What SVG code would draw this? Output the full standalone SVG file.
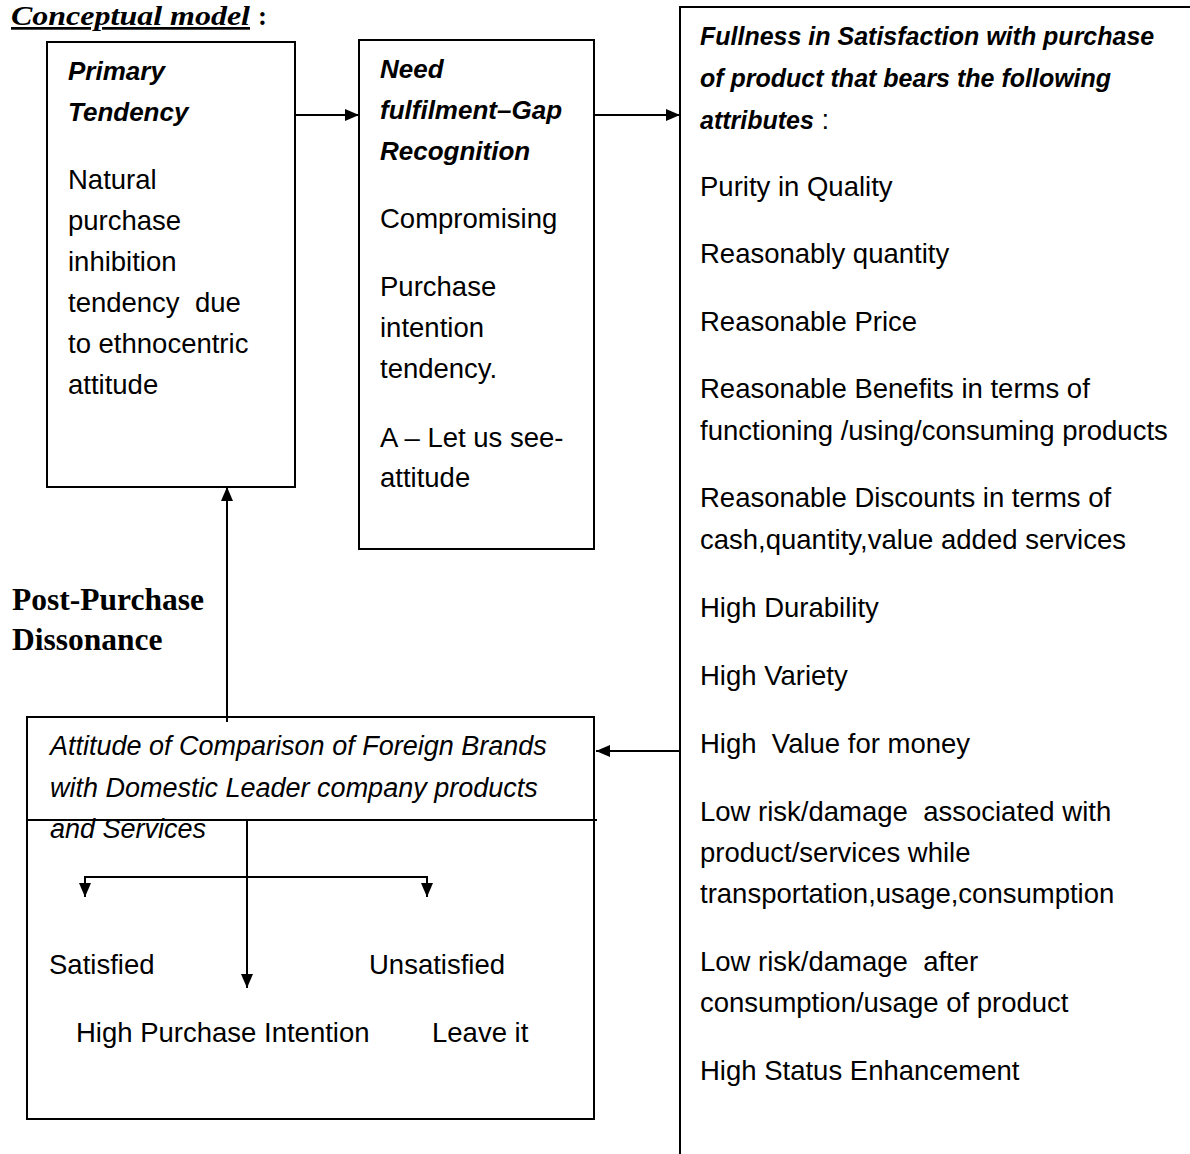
<svg xmlns="http://www.w3.org/2000/svg" width="1190" height="1154" viewBox="0 0 1190 1154">
<defs>
<marker id="ah" viewBox="0 0 14 12" refX="14" refY="6" markerWidth="14" markerHeight="12" markerUnits="userSpaceOnUse" orient="auto">
<path d="M0,0 L14,6 L0,12 Z" fill="#000"/>
</marker>
<style>
.box{fill:#fff;stroke:#000;stroke-width:2}
.ln{fill:none;stroke:#000;stroke-width:2}
.t{font-family:"Liberation Sans",Arial,sans-serif;font-size:27.5px;fill:#000}
.h{font-family:"Liberation Sans",Arial,sans-serif;font-size:26px;font-weight:bold;font-style:italic;fill:#000}
.hr{font-size:25px}
.i{font-family:"Liberation Sans",Arial,sans-serif;font-size:27px;font-style:italic;fill:#000}
.s{font-family:"Liberation Serif","Times New Roman",serif;font-weight:bold;fill:#000}
</style>
</defs>
<rect width="1190" height="1154" fill="#fff"/>
<g id="title">
<text class="s" x="11" y="25" font-size="27" font-style="italic" text-decoration="underline" textLength="239" lengthAdjust="spacingAndGlyphs">Conceptual model</text>
<text class="s" x="258" y="25" font-size="27">:</text>
</g>
<g id="label-dissonance">
<text class="s" x="12" y="610" font-size="31.5">Post-Purchase</text>
<text class="s" x="12" y="650" font-size="31.5">Dissonance</text>
</g>
<g id="node-primary">
<rect class="box" x="47" y="42" width="248" height="445"/>
<text class="h" x="68" y="80">Primary</text>
<text class="h" x="68" y="121">Tendency</text>
<text class="t" x="68" y="189">Natural</text>
<text class="t" x="68" y="230">purchase</text>
<text class="t" x="68" y="271">inhibition</text>
<text class="t" x="68" y="312" xml:space="preserve">tendency  due</text>
<text class="t" x="68" y="353">to ethnocentric</text>
<text class="t" x="68" y="394">attitude</text>
</g>
<g id="node-need">
<rect class="box" x="359" y="40" width="235" height="509"/>
<text class="h" x="380" y="78">Need</text>
<text class="h" x="380" y="119">fulfilment–Gap</text>
<text class="h" x="380" y="160">Recognition</text>
<text class="t" x="380" y="228">Compromising</text>
<text class="t" x="380" y="296">Purchase</text>
<text class="t" x="380" y="337">intention</text>
<text class="t" x="380" y="378">tendency.</text>
<text class="t" x="380" y="447">A – Let us see-</text>
<text class="t" x="380" y="487">attitude</text>
</g>
<g id="node-fullness">
<rect class="box" x="680" y="7" width="530" height="1160"/>
<text class="h hr" x="700" y="45">Fullness in Satisfaction with purchase</text>
<text class="h hr" x="700" y="87">of product that bears the following</text>
<text x="700" y="129"><tspan class="h hr">attributes</tspan><tspan class="t"> :</tspan></text>
<text class="t" x="700" y="196">Purity in Quality</text>
<text class="t" x="700" y="263">Reasonably quantity</text>
<text class="t" x="700" y="331">Reasonable Price</text>
<text class="t" x="700" y="398">Reasonable Benefits in terms of</text>
<text class="t" x="700" y="440">functioning /using/consuming products</text>
<text class="t" x="700" y="507">Reasonable Discounts in terms of</text>
<text class="t" x="700" y="549">cash,quantity,value added services</text>
<text class="t" x="700" y="617">High Durability</text>
<text class="t" x="700" y="685">High Variety</text>
<text class="t" x="700" y="753" xml:space="preserve">High  Value for money</text>
<text class="t" x="700" y="821" xml:space="preserve">Low risk/damage  associated with</text>
<text class="t" x="700" y="862">product/services while</text>
<text class="t" x="700" y="903">transportation,usage,consumption</text>
<text class="t" x="700" y="971" xml:space="preserve">Low risk/damage  after</text>
<text class="t" x="700" y="1012">consumption/usage of product</text>
<text class="t" x="700" y="1080">High Status Enhancement</text>
</g>
<g id="node-attitude">
<rect class="box" x="27" y="717" width="567" height="402"/>
<text class="i" x="50" y="755">Attitude of Comparison of Foreign Brands</text>
<text class="i" x="50" y="797">with Domestic Leader company products</text>
<text class="i" x="50" y="838">and Services</text>
<text class="t" x="49" y="974">Satisfied</text>
<text class="t" x="369" y="974">Unsatisfied</text>
<text class="t" x="76" y="1042">High Purchase Intention</text>
<text class="t" x="432" y="1042">Leave it</text>
</g>
<g id="connectors">
<line class="ln" x1="295" y1="115" x2="359" y2="115" marker-end="url(#ah)"/>
<line class="ln" x1="594" y1="115" x2="680" y2="115" marker-end="url(#ah)"/>
<line class="ln" x1="680" y1="751" x2="596" y2="751" marker-end="url(#ah)"/>
<line class="ln" x1="227" y1="722" x2="227" y2="487" marker-end="url(#ah)"/>
<line class="ln" x1="27" y1="820" x2="597" y2="820"/>
<line class="ln" x1="247" y1="820" x2="247" y2="988" marker-end="url(#ah)"/>
<polyline class="ln" points="85,897 85,877 427,877 427,897"/>
<path d="M79,883 L91,883 L85,897 Z" fill="#000"/>
<path d="M421,883 L433,883 L427,897 Z" fill="#000"/>
</g>
</svg>
